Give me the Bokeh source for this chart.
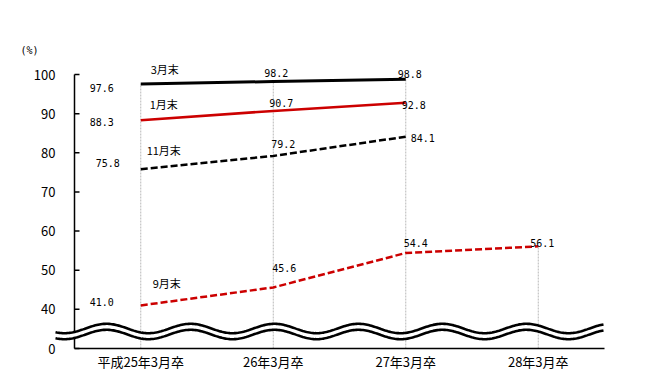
import numpy as np
from bokeh.plotting import figure
from bokeh.models import Range1d, ColumnDataSource
from bokeh.core.properties import value
from bokeh.embed import file_html
from bokeh.resources import INLINE

# ---------------- data ----------------
categories = ["平成25年3月卒", "26年3月卒", "27年3月卒", "28年3月卒"]
series_names = ["3月末", "1月末", "11月末", "9月末"]
mar_end = [97.6, 98.2, 98.8]
jan_end = [88.3, 90.7, 92.8]
nov_end = [75.8, 79.2, 84.1]
sep_end = [41.0, 45.6, 54.4, 56.1]
y_ticks = [30, 40, 50, 60, 70, 80, 90, 100]
y_tick_labels = ["0", "40", "50", "60", "70", "80", "90", "100"]
unit_label = "(%)"

# ---------------- layout / style ----------------
W, H = 640, 370
PX_X = 132.5            # pixels per category
PX_Y = 274.0 / 70.0     # pixels per percentage point
AXIS_LEFT = 74          # axis x position inside frame (px)
AXIS_BOTTOM = 348       # axis y position from frame top (px)
Y_BASE = y_ticks[0]
RED = "#cc0000"
GRID = "#b8b8b8"
CJK = "Noto Sans CJK JP"
MONO = "DejaVu Sans Mono"

x_range = Range1d(-AXIS_LEFT / PX_X, (W - AXIS_LEFT) / PX_X)
y_range = Range1d(Y_BASE - (H - AXIS_BOTTOM) / PX_Y, Y_BASE + AXIS_BOTTOM / PX_Y)

p = figure(width=W, height=H, x_range=x_range, y_range=y_range,
           x_axis_type=None, y_axis_type=None,
           output_backend="svg", toolbar_location=None, min_border=0)
p.grid.visible = False
p.outline_line_color = None
p.background_fill_color = "white"
p.border_fill_color = "white"

xs = [i + 0.5 for i in range(len(categories))]
series = [mar_end, jan_end, nov_end, sep_end]
colors = ["black", RED, "black", RED]
dashes = ["solid", "solid", "7 3", "7 3"]
widths = [3, 2.5, 2.5, 2.5]

# per-value label offsets (screen px, +y is down)
label_offsets = [
    [(-39, 4), (3, -9), (4, -5)],
    [(-39, 2), (8, -8), (8, 2)],
    [(-33, -6), (10, -12), (17, 1)],
    [(-39, -3), (11, -19), (10, -10), (4, -3)],
]
name_offsets = [(24, -15), (23, -16), (23, -19), (26, -22)]

# vertical dotted guide lines
tops = []
for i in range(len(categories)):
    vals = [s[i] for s in series if i < len(s)]
    tops.append(max(vals))
p.segment(x0=xs, y0=[Y_BASE] * len(xs), x1=xs, y1=tops,
          line_color=GRID, line_width=1, line_dash="2 1")

# axes drawn by hand (the wave break crosses the y axis)
p.segment(x0=[0], y0=[Y_BASE], x1=[0], y1=[y_ticks[-1]], line_color="black", line_width=1.5)
p.segment(x0=[0], y0=[Y_BASE], x1=[len(categories)], y1=[Y_BASE], line_color="black", line_width=1.5)
tick_len = 5 / PX_X
p.segment(x0=[0] * len(y_ticks), y0=y_ticks, x1=[tick_len] * len(y_ticks), y1=y_ticks,
          line_color="black", line_width=1.5)

# break mark (double wave)
wx_px = np.linspace(55, 603, 400)
phase = 2 * np.pi * (wx_px - 106) / 84.0
up_py = 328 - 4.7 * np.cos(phase)
lo_py = 334 - 4.7 * np.cos(phase)
wx = (wx_px - AXIS_LEFT) / PX_X
up = Y_BASE + (AXIS_BOTTOM - up_py) / PX_Y
lo = Y_BASE + (AXIS_BOTTOM - lo_py) / PX_Y
p.varea(x=wx, y1=lo, y2=up, fill_color="white")
p.line(wx, up, line_color="black", line_width=2.6)
p.line(wx, lo, line_color="black", line_width=2.6)

# series lines
for s, c, d, w in zip(series, colors, dashes, widths):
    p.line(xs[:len(s)], s, line_color=c, line_width=w, line_dash=d)

# value labels
for s, offs in zip(series, label_offsets):
    src = ColumnDataSource(dict(x=xs[:len(s)], y=s, t=[f"{v:.1f}" for v in s],
                                dx=[o[0] for o in offs], dy=[o[1] for o in offs]))
    p.text(x="x", y="y", text="t", x_offset="dx", y_offset="dy", source=src,
           text_font=value(MONO), text_font_size="10px", text_color="black",
           text_align="center", text_baseline="middle")

# series name labels
src = ColumnDataSource(dict(x=[xs[0]] * 4, y=[s[0] for s in series], t=series_names,
                            dx=[o[0] for o in name_offsets], dy=[o[1] for o in name_offsets]))
p.text(x="x", y="y", text="t", x_offset="dx", y_offset="dy", source=src,
       text_font=value(CJK), text_font_size="11px", text_color="black",
       text_align="center", text_baseline="middle")

# y tick labels
p.text(x=[0] * len(y_ticks), y=y_ticks, text=y_tick_labels, x_offset=-19,
       text_font=value(CJK), text_font_size="13px", text_color="black",
       text_align="right", text_baseline="middle")

# unit label
p.text(x=[0], y=[y_ticks[-1]], text=[unit_label], x_offset=-45, y_offset=-24,
       text_font=value(MONO), text_font_size="10px", text_color="black",
       text_align="center", text_baseline="middle")

# category labels
p.text(x=xs, y=[Y_BASE] * len(xs), text=categories, y_offset=13,
       text_font=value(CJK), text_font_size="13px", text_color="black",
       text_align="center", text_baseline="middle")

open("out.html", "w").write(file_html(p, INLINE))
